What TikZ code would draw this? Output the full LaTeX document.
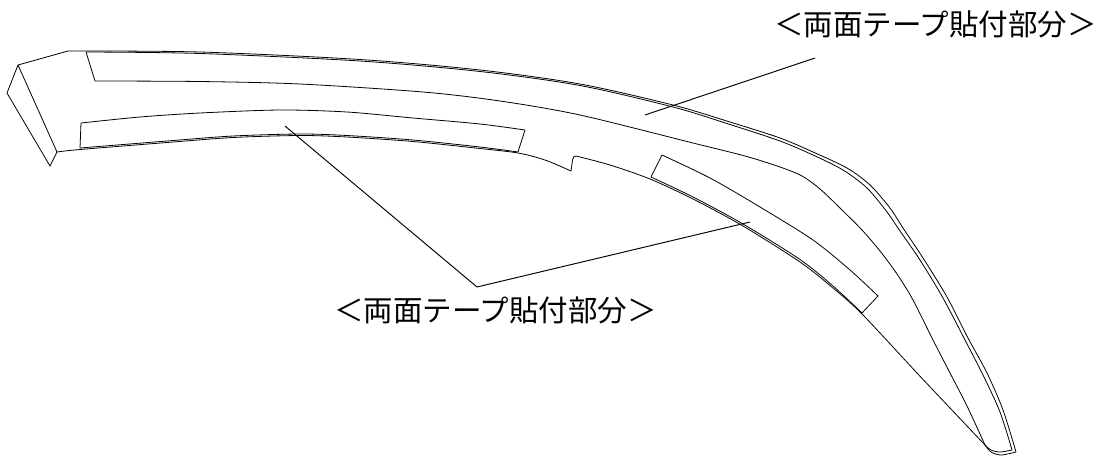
\documentclass[tikz,border=0pt]{standalone}
\usepackage{fontspec}
\newfontfamily\cjk{Noto Sans CJK JP}
\tikzset{
 ln/.style={line width=0.8pt,line join=miter,black},
 lead/.style={line width=0.95pt,black},
 lbl/.style={font=\cjk\fontsize{29.5pt}{32pt}\selectfont,inner sep=0pt,anchor=center}
}
\begin{document}
\begin{tikzpicture}[x=1pt,y=-1pt]
\useasboundingbox (0,0) rectangle (1098,456);
% end block
\draw[ln] (68,51) -- (18,65) -- (7,93) -- (50,166) -- (57,152) -- (18,65);
% outer top edge
\draw[ln] plot[smooth] coordinates {(68,51) (200,52) (360,59.5) (480,70) (580,84) (673,105) (730,122) (780,138) (813,152) (847,168) (870,185) (890,208) (903,228) (923,258) (947,297) (968,338) (987,373) (1003,410) (1016,452)};
\draw[ln] plot[smooth] coordinates {(86,52) (200,53.5) (360,61) (480,71.5) (580,85.5) (673,107) (730,124.5) (780,141) (813,155) (843,170) (867,188) (887,212) (900,231) (920,260) (943,298) (965,340) (983,375) (1000,412) (1012,450)};
% tip
\draw[ln] plot[smooth] coordinates {(985,445) (991,450) (1000,452) (1012,450)};
\draw[ln] plot[smooth] coordinates {(985,445) (991,452) (1001,455) (1016,452)};
% tape 1
\draw[ln] plot[smooth] coordinates {(95,81) (200,81.5) (300,84) (423,92) (500,101) (580,115) (693,143) (745,156) (780,167) (802,176) (820,189) (840,208) (862,230) (880,251) (897,274) (913,300) (933,340) (950,373) (967,406) (985,445)};
\draw[ln] (86,52) -- (95,81);
% tape 2
\draw[ln] plot[smooth] coordinates {(81,123) (140,117) (200,113) (280,110) (347,112) (413,118) (480,124) (525,130)};
\draw[ln] (81,123) -- (80,148) (525,130) -- (518,152);
\draw[ln] plot[smooth] coordinates {(80,148) (167,141) (233,136) (300,134) (347,135.5) (413,140) (480,147) (518,152)};
% lower body edge
\draw[ln] plot[smooth] coordinates {(57,152) (80,149.5) (167,142.5) (233,137.5) (300,135.5) (347,137) (413,141.5) (480,148.5) (518,153) (545,160) (571,171)};
\draw[ln] (571,171) -- (572.5,160) .. controls (573,157) and (574,156) .. (576,156);
\draw[ln] plot[smooth] coordinates {(576,156) (610,165) (650,179) (693,199) (743,226) (800,262) (833,288) (862,314) (917,373) (950,408) (985,445)};
% tape 3
\draw[ln] (651,177) -- (662,155);
\draw[ln] plot[smooth] coordinates {(662,155) (710,178) (760,207) (813,240) (850,270) (878,296)};
\draw[ln] (878,296) -- (862,313);
\draw[ln] plot[smooth] coordinates {(651,177) (693,197) (743,224) (800,259.5) (833,286) (862,313)};
% leaders
\node[lbl] (top) at (935.5,24.5) {＜両面テープ貼付部分＞};
\node[lbl] (bot) at (495.5,310) {＜両面テープ貼付部分＞};
\coordinate (a) at (645,115);
\coordinate (b) at (815,58);
\coordinate (apex) at (477,287);
\coordinate (c) at (285,126);
\coordinate (d) at (750,222);
\draw[lead] (a) -- (b);
\draw[lead] (c) -- (apex) -- (d);
\end{tikzpicture}
\end{document}
